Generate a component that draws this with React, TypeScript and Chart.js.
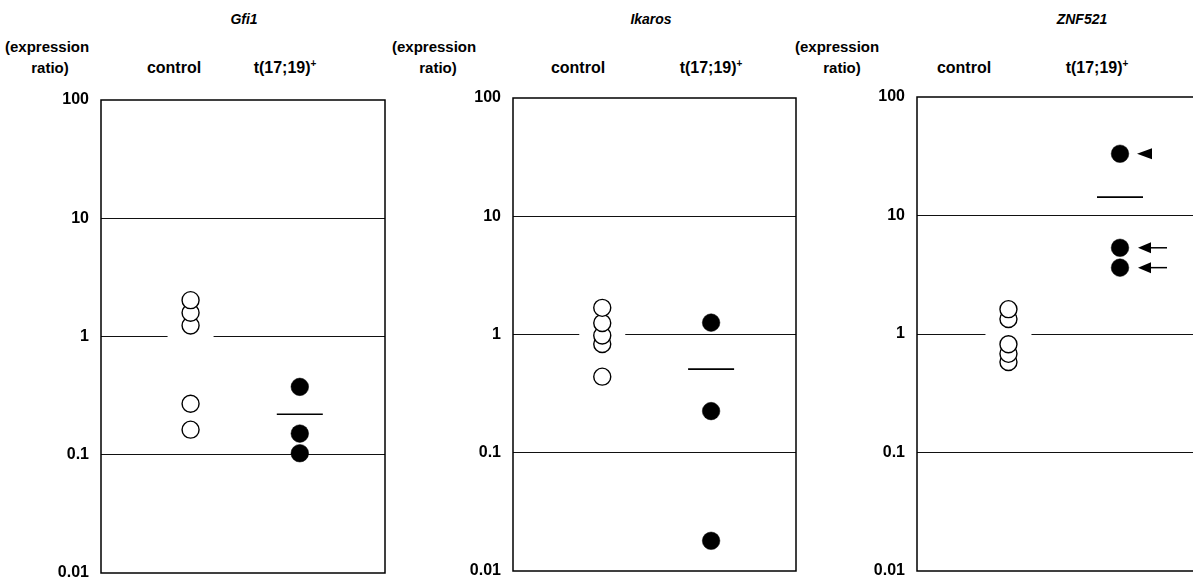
import React, { useEffect, useRef } from "react";
import { Chart, registerables } from "chart.js";

Chart.register(...registerables);

// ---------- data ----------
const panelTitles = ["Gfi1", "Ikaros", "ZNF521"];
const groupLabels = ["control", "t(17;19)"];
const yTicks = [0.01, 0.1, 1, 10, 100];
const yTickLabels = ["0.01", "0.1", "1", "10", "100"];
const gridValues = [0.1, 1, 10];

const gfiControl = [0.163, 0.27, 1.24, 1.59, 2.03];
const gfiTrans = [0.103, 0.151, 0.375];
const gfiMean = [0.22];

const ikarosControl = [0.44, 0.83, 0.98, 1.25, 1.68];
const ikarosTrans = [0.018, 0.225, 1.26];
const ikarosMean = [0.51];

const znfControl = [0.58, 0.68, 0.82, 1.34, 1.62];
const znfTrans = [3.63, 5.34, 33.2];
const znfMean = [14.3];
const znfMarks = ["arrow", "arrow", "head"];

const FONT = '"Liberation Sans", Arial, Helvetica, sans-serif';

type PanelSpec = {
  title: string;
  control: number[];
  trans: number[];
  mean: number[];
  marks: string[];
  box: { left: number; top: number; width: number; height: number };
  text: {
    titleX: number;
    exprLeft: number;
    ratioX: number;
    controlX: number;
    transX: number;
  };
};

const panels: PanelSpec[] = [
  {
    title: panelTitles[0],
    control: gfiControl,
    trans: gfiTrans,
    mean: gfiMean,
    marks: [],
    box: { left: 101, top: 100, width: 284, height: 473 },
    text: { titleX: 244, exprLeft: 5, ratioX: 50, controlX: 174, transX: 285 },
  },
  {
    title: panelTitles[1],
    control: ikarosControl,
    trans: ikarosTrans,
    mean: ikarosMean,
    marks: [],
    box: { left: 513, top: 98, width: 283, height: 473 },
    text: { titleX: 651, exprLeft: 392, ratioX: 438, controlX: 578, transX: 711 },
  },
  {
    title: panelTitles[2],
    control: znfControl,
    trans: znfTrans,
    mean: znfMean,
    marks: znfMarks,
    box: { left: 917, top: 97, width: 290, height: 474 },
    text: { titleX: 1082, exprLeft: 795, ratioX: 842, controlX: 964, transX: 1097 },
  },
];

const LEFT_PAD = 60;
const TOP_PAD = 12;

const boxPlugin = {
  id: "boxPlugin",
  beforeDatasetsDraw(chart: any) {
    const { ctx, chartArea } = chart;
    const xs = chart.scales.x;
    const ys = chart.scales.y;
    ctx.save();
    // white gap in the 1-line around the control column
    const cx = xs.getPixelForValue(0);
    const y1 = ys.getPixelForValue(1);
    ctx.fillStyle = "#ffffff";
    ctx.fillRect(cx - 23, y1 - 2, 46, 4);
    // frame
    ctx.strokeStyle = "#000";
    ctx.lineWidth = 1.5;
    ctx.strokeRect(
      chartArea.left,
      chartArea.top,
      chartArea.right - chartArea.left,
      chartArea.bottom - chartArea.top
    );
    ctx.restore();
  },
};

const arrowPlugin = {
  id: "arrowMarks",
  afterDatasetsDraw(chart: any, _args: any, opts: any) {
    const marks: string[] = (opts && opts.marks) || [];
    if (!marks.length) return;
    const meta = chart.getDatasetMeta(1);
    const { ctx } = chart;
    ctx.save();
    ctx.fillStyle = "#000";
    ctx.strokeStyle = "#000";
    meta.data.forEach((pt: any, i: number) => {
      const m = marks[i];
      if (!m) return;
      const tip = pt.x + (m === "head" ? 17 : 18);
      const base = pt.x + (m === "head" ? 32 : 31);
      ctx.beginPath();
      ctx.moveTo(tip, pt.y);
      ctx.lineTo(base, pt.y - 5.5);
      ctx.lineTo(base, pt.y + 5.5);
      ctx.closePath();
      ctx.fill();
      if (m === "arrow") {
        ctx.lineWidth = 1.5;
        ctx.beginPath();
        ctx.moveTo(base - 1, pt.y);
        ctx.lineTo(pt.x + 47, pt.y);
        ctx.stroke();
      }
    });
    ctx.restore();
  },
};

function Panel({ spec }: { spec: PanelSpec }) {
  const ref = useRef<HTMLCanvasElement | null>(null);
  const { box } = spec;
  const cw = LEFT_PAD + box.width + 2;
  const ch = box.height + TOP_PAD * 2;

  useEffect(() => {
    if (!ref.current) return;
    const chart = new Chart(ref.current, {
      type: "scatter",
      data: {
        datasets: [
          {
            label: groupLabels[0],
            data: spec.control.map((v) => ({ x: 0, y: v })),
            pointStyle: "circle",
            pointRadius: 8.5,
            backgroundColor: "#ffffff",
            borderColor: "#000000",
            borderWidth: 1.4,
          },
          {
            label: groupLabels[1],
            data: spec.trans.map((v) => ({ x: 1, y: v })),
            pointStyle: "circle",
            pointRadius: 8.8,
            backgroundColor: "#000000",
            borderColor: "#000000",
            borderWidth: 0.5,
          },
          {
            label: "mean",
            data: spec.mean.map((v) => ({ x: 1, y: v })),
            pointStyle: "line",
            pointRadius: 23,
            borderColor: "#000000",
            borderWidth: 1.6,
          },
        ],
      },
      options: {
        responsive: false,
        animation: false,
        devicePixelRatio: 1,
        events: [],
        layout: {
          autoPadding: false,
          padding: { top: TOP_PAD, bottom: TOP_PAD, left: 0, right: 2 },
        },
        plugins: {
          legend: { display: false },
          tooltip: { enabled: false },
          arrowMarks: { marks: spec.marks },
        } as any,
        scales: {
          x: { type: "linear", min: -0.82, max: 1.78, display: false },
          y: {
            type: "logarithmic",
            min: 0.01,
            max: 100,
            afterBuildTicks: (scale: any) => {
              scale.ticks = yTicks.map((v) => ({ value: v }));
            },
            afterFit: (scale: any) => {
              scale.width = LEFT_PAD;
              scale.paddingTop = 0;
              scale.paddingBottom = 0;
            },
            border: { display: false },
            grid: {
              drawTicks: false,
              lineWidth: 1,
              color: (c: any) =>
                c.tick && gridValues.includes(c.tick.value) ? "#111" : "rgba(0,0,0,0)",
            },
            ticks: {
              padding: 12,
              color: "#000",
              font: { family: FONT, size: 16, weight: "bold" },
              callback: (v: any) => {
                const i = yTicks.indexOf(Number(v));
                return i >= 0 ? yTickLabels[i] : "";
              },
            },
          },
        },
      },
      plugins: [boxPlugin, arrowPlugin],
    } as any);
    return () => chart.destroy();
  }, []);

  const t = spec.text;
  const lbl: React.CSSProperties = {
    position: "absolute",
    whiteSpace: "nowrap",
    font: `bold 15px ${FONT}`,
    color: "#000",
    transform: "translate(-50%, -50%)",
    lineHeight: "18px",
  };
  return (
    <>
      <div style={{ ...lbl, left: t.titleX, top: 19, fontStyle: "italic", fontSize: 14 }}>
        {spec.title}
      </div>
      <div style={{ ...lbl, left: t.exprLeft, top: 47, transform: "translate(0, -50%)" }}>
        (expression
      </div>
      <div style={{ ...lbl, left: t.ratioX, top: 68 }}>ratio)</div>
      <div style={{ ...lbl, left: t.controlX, top: 68, fontSize: 16 }}>{groupLabels[0]}</div>
      <div style={{ ...lbl, left: t.transX, top: 68, fontSize: 16 }}>
        {groupLabels[1]}
        <sup style={{ fontSize: 10, verticalAlign: "6px", lineHeight: 0 }}>+</sup>
      </div>
      <canvas
        ref={ref}
        width={cw}
        height={ch}
        style={{
          position: "absolute",
          left: box.left - LEFT_PAD,
          top: box.top - TOP_PAD,
          width: cw,
          height: ch,
        }}
      />
    </>
  );
}

export default function App() {
  return (
    <div
      style={{
        position: "absolute",
        left: 0,
        top: 0,
        width: 1193,
        height: 583,
        overflow: "hidden",
        background: "#fff",
      }}
    >
      {panels.map((p, i) => (
        <Panel key={i} spec={p} />
      ))}
    </div>
  );
}
